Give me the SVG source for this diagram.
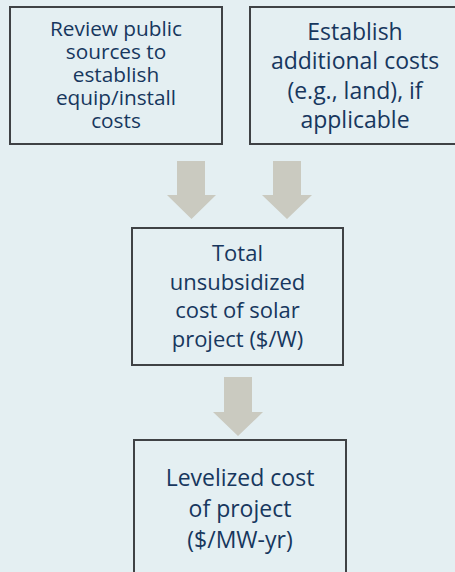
<svg xmlns="http://www.w3.org/2000/svg" width="455" height="572" viewBox="0 0 455 572">
<style>
.box{fill:#E4EFF2;stroke:#3F4245;stroke-width:2}
.t{font-family:"Open Sans","Noto Sans",sans-serif;fill:#17375E;text-anchor:middle}
.arr{fill:#CACAC0}
</style>
<rect width="455" height="572" fill="#E4EFF2"/>
<g id="connectors">
<polygon class="arr" points="177,161 205,161 205,195 216,195 191.5,219 167,195 177,195"/>
<polygon class="arr" points="273,161 301,161 301,195 312,195 287,219 262,195 273,195"/>
<polygon class="arr" points="224,377 252,377 252,412 263,412 238,436 213,412 224,412"/>
</g>
<g id="node1">
<rect class="box" x="10" y="7" width="212" height="137"/>
<text class="t" font-size="20.8" x="116"><tspan x="116" y="36">Review public</tspan><tspan x="116" y="59">sources to</tspan><tspan x="116" y="82">establish</tspan><tspan x="116" y="105">equip/install</tspan><tspan x="116" y="128">costs</tspan></text>
</g>
<g id="node2">
<rect class="box" x="250" y="7" width="212" height="137"/>
<text class="t" font-size="23" x="355"><tspan x="355" y="40">Establish</tspan><tspan x="355" y="69">additional costs</tspan><tspan x="355" y="99">(e.g., land), if</tspan><tspan x="355" y="128">applicable</tspan></text>
</g>
<g id="node3">
<rect class="box" x="132" y="228" width="211" height="137"/>
<text class="t" font-size="22" x="237.5"><tspan x="237.5" y="261">Total</tspan><tspan x="237.5" y="290">unsubsidized</tspan><tspan x="237.5" y="318">cost of solar</tspan><tspan x="237.5" y="347">project ($/W)</tspan></text>
</g>
<g id="node4">
<rect class="box" x="134" y="440" width="212" height="150"/>
<text class="t" font-size="23" x="240"><tspan x="240" y="486">Levelized cost</tspan><tspan x="240" y="517">of project</tspan><tspan x="240" y="548">($/MW-yr)</tspan></text>
</g>
</svg>
